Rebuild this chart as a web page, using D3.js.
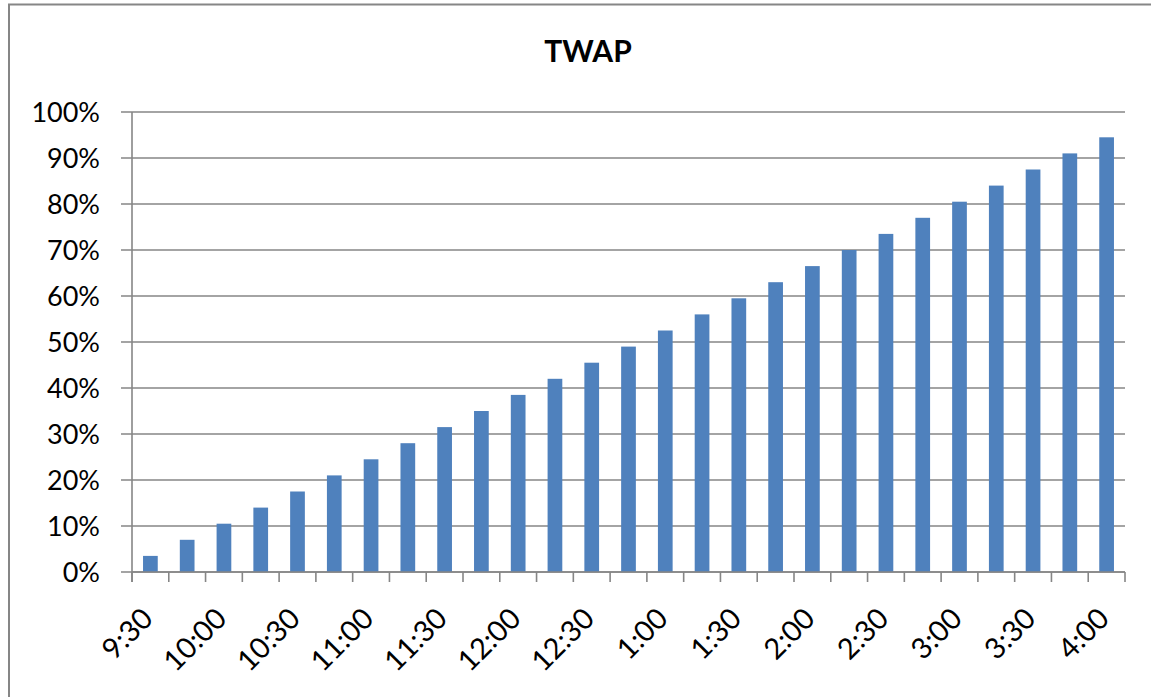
<!DOCTYPE html>
<html>
<head>
<meta charset="utf-8">
<script src="https://cdn.jsdelivr.net/npm/d3@7"></script>
<style>
  html, body { margin: 0; padding: 0; background: #fff; }
  svg { display: block; }
</style>
</head>
<body>
<svg id="chart" width="1151" height="697"></svg>
<script>
// 15-minute intervals across the trading session
const times = ["9:30","9:45","10:00","10:15","10:30","10:45","11:00","11:15","11:30","11:45",
  "12:00","12:15","12:30","12:45","1:00","1:15","1:30","1:45","2:00","2:15","2:30","2:45",
  "3:00","3:15","3:30","3:45","4:00"];
// cumulative share of the order executed
const executed = [3.5,7,10.5,14,17.5,21,24.5,28,31.5,35,38.5,42,45.5,49,52.5,56,59.5,63,
  66.5,70,73.5,77,80.5,84,87.5,91,94.5];
const yTicks = [0,10,20,30,40,50,60,70,80,90,100];
const chartTitle = "TWAP";

(function () {
  const svg = d3.select("#chart");
  const font = "Lato, 'Open Sans', sans-serif";
  const grey = "#868686";

  const plotLeft = 132, plotRight = 1125, plotTop = 112, plotBottom = 572;

  const x = d3.scaleBand().domain(times).range([plotLeft, plotRight]).paddingInner(0.6).paddingOuter(0.3);
  const y = d3.scaleLinear().domain([0, 100]).range([plotBottom, plotTop]);

  // chart frame
  svg.append("rect")
    .attr("x", 9).attr("y", 4.5).attr("width", 1160).attr("height", 720)
    .attr("fill", "none").attr("stroke", grey).attr("stroke-width", 2);

  // title
  svg.append("text")
    .attr("x", 588).attr("y", 62)
    .attr("text-anchor", "middle")
    .attr("font-family", font).attr("font-weight", "bold").attr("font-size", 30)
    .attr("fill", "#000")
    .text(chartTitle);

  // horizontal gridlines with left tick marks
  svg.append("g").selectAll("line").data(yTicks).join("line")
    .attr("x1", plotLeft - 11).attr("x2", plotRight)
    .attr("y1", d => y(d)).attr("y2", d => y(d))
    .attr("stroke", grey).attr("stroke-width", 1.6);

  // y axis labels
  svg.append("g").selectAll("text").data(yTicks).join("text")
    .attr("x", 100).attr("y", d => y(d))
    .attr("dy", "0.36em")
    .attr("text-anchor", "end")
    .attr("font-family", font).attr("font-size", 27)
    .attr("fill", "#000")
    .text(d => d + "%");

  // bars
  svg.append("g").selectAll("rect").data(executed).join("rect")
    .attr("x", (d, i) => x(times[i]))
    .attr("y", d => y(d))
    .attr("width", x.bandwidth())
    .attr("height", d => y(0) - y(d))
    .attr("fill", "#4F81BD");

  // y axis line
  svg.append("line")
    .attr("x1", plotLeft).attr("x2", plotLeft).attr("y1", plotTop).attr("y2", plotBottom + 10)
    .attr("stroke", grey).attr("stroke-width", 1.6);

  // category boundary ticks on the x axis
  const step = x.step();
  const boundaries = d3.range(times.length + 1).map(i => plotLeft + i * step);
  svg.append("g").selectAll("line").data(boundaries).join("line")
    .attr("x1", d => d).attr("x2", d => d)
    .attr("y1", plotBottom).attr("y2", plotBottom + 10)
    .attr("stroke", grey).attr("stroke-width", 1.6);

  // x axis baseline
  svg.append("line")
    .attr("x1", plotLeft).attr("x2", plotRight).attr("y1", plotBottom).attr("y2", plotBottom)
    .attr("stroke", grey).attr("stroke-width", 1.6);

  // rotated time labels on every other interval
  svg.append("g").selectAll("text").data(times.filter((t, i) => i % 2 === 0)).join("text")
    .attr("transform", d => `translate(${x(d) + x.bandwidth() / 2 - 10},${plotBottom + 34}) rotate(-45)`)
    .attr("text-anchor", "end")
    .attr("dy", "0.7em")
    .attr("font-family", font).attr("font-size", 29)
    .attr("fill", "#000")
    .text(d => d);
})();
</script>
</body>
</html>
